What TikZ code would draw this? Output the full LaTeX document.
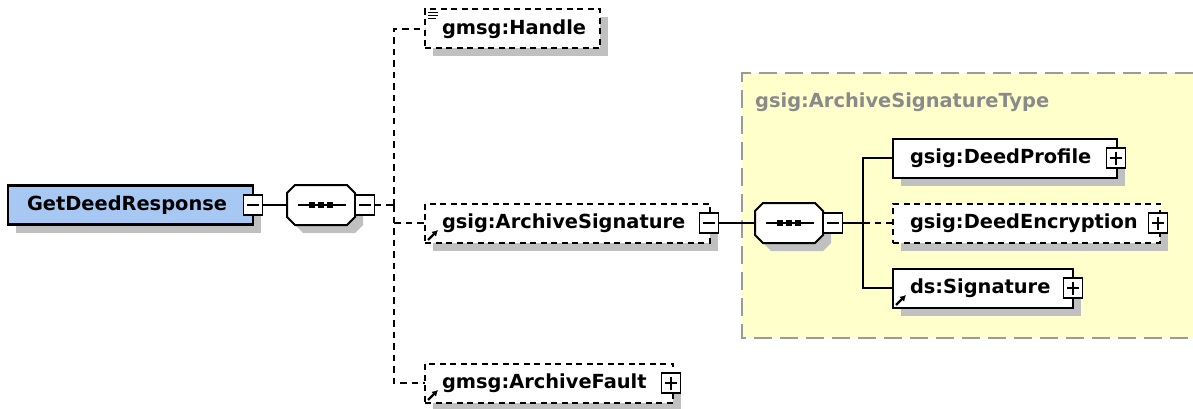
\documentclass[tikz,border=0pt]{standalone}
\usepackage{fontspec}
\setmainfont{DejaVu Sans}
\usetikzlibrary{calc,arrows.meta,shadows}

\definecolor{rootblue}{HTML}{A6C8F2}
\definecolor{typeyellow}{HTML}{FFFFCC}
\definecolor{shadowgray}{HTML}{C0C0C0}
\definecolor{typegray}{HTML}{8A8A8A}
\definecolor{frameline}{HTML}{9A9A9A}

\newcommand\elemfont{\fontsize{19.4}{22}\selectfont\bfseries}

% octagon of a sequence compositor (68pt x 40pt) on node #1, with its shadow
\newcommand\seqoct[1]{%
  \fill[shadowgray] ([shift={(16pt,-8pt)}]#1.north west) -- ++(52pt,0pt) -- ++(8pt,-8pt)
    -- ++(0pt,-24pt) -- ++(-8pt,-8pt) -- ++(-52pt,0pt) -- ++(-8pt,8pt) -- ++(0pt,24pt) -- cycle;
  \draw[line width=2pt,fill=white] ([xshift=8pt]#1.north west) -- ++(52pt,0pt) -- ++(8pt,-8pt)
    -- ++(0pt,-24pt) -- ++(-8pt,-8pt) -- ++(-52pt,0pt) -- ++(-8pt,8pt) -- ++(0pt,24pt) -- cycle;
  \draw[line width=2pt] ([xshift=11pt]#1.west) -- ([xshift=-9pt]#1.east);
  \foreach \dx in {-9,0,9}
    \fill ([xshift=\dx pt]#1.center) +(-2.8pt,-2.8pt) rectangle +(2.8pt,2.8pt);
}

\tikzset{
  elembase/.style={line width=2pt, fill=white, anchor=west, minimum height=39pt,
    inner xsep=17pt, inner ysep=0pt, outer sep=0pt, font=\elemfont,
    drop shadow={shadow xshift=8pt, shadow yshift=-8pt, fill=shadowgray, opacity=1}},
  reqbox/.style={elembase, draw},
  optbox/.style={elembase, draw, dash pattern=on 6pt off 4.5pt},
  rootbox/.style={elembase, draw, line width=2.2pt, fill=rootblue},
  compositor/.style={minimum width=68pt, minimum height=40pt, inner sep=0pt, outer sep=0pt},
  pmbox/.style={draw, fill=white, line width=1.8pt, minimum width=19pt, minimum height=20pt,
    inner sep=0pt, outer sep=0pt},
  minusbox/.style={pmbox, path picture={
    \draw[line width=1.6pt] ([xshift=3.5pt]path picture bounding box.west)
      -- ([xshift=-3.5pt]path picture bounding box.east);}},
  plusbox/.style={pmbox, path picture={
    \draw[line width=1.6pt] ([xshift=3.5pt]path picture bounding box.west)
      -- ([xshift=-3.5pt]path picture bounding box.east);
    \draw[line width=1.6pt] ([yshift=-3.5pt]path picture bounding box.north)
      -- ([yshift=3.5pt]path picture bounding box.south);}},
  conn/.style={line width=2pt},
  dconn/.style={line width=2pt, dash pattern=on 6.5pt off 5pt},
  refarrow/.style={line width=2.2pt, -{Latex[length=6pt,width=7pt]}},
  typeframe/.style={draw=frameline, line width=1.8pt, dash pattern=on 18pt off 8pt},
}

\begin{document}
\begin{tikzpicture}[x=1pt,y=-1pt]
\useasboundingbox (0,0) rectangle (1193,409);

% complex type area
\fill[typeyellow] (742,73) rectangle (1193,338);
\draw[typeframe] (1193,73) -- (742,73) -- (742,338) -- (1193,338);
\node[anchor=west, inner sep=0pt, font=\elemfont, text=typegray] (typename) at (755,102)
  {gsig:ArchiveSignatureType};

% root element and its sequence
\node[rootbox] (root) at (8,205) {\hbox to 211pt{\hspace{2pt}GetDeedResponse\hss}};
\node[minusbox] (rootm) at (root.east) {};
\node[compositor] (s1) at (321,205) {};
\seqoct{s1}
\node[minusbox] (s1m) at ([xshift=10pt]s1.east) {};
\coordinate (sp1) at (394,205);

% children of the root sequence
\node[optbox] (handle) at (425,29) {\hbox to 141pt{gmsg:Handle\hss}};
\node[optbox] (asig) at (425,223) {\hbox to 251pt{gsig:ArchiveSignature\hss}};
\node[minusbox] (asigm) at ([xshift=-1pt]asig.east) {};
\node[optbox] (fault) at (425,383) {\hbox to 214pt{gmsg:ArchiveFault\hss}};
\node[plusbox] (faultp) at ([xshift=-2pt]fault.east) {};

% simple content mark and reference arrows
\foreach \dy/\len in {3/10,6/10,9/8}
  \draw[line width=1.6pt] ([shift={(3pt,-\dy pt)}]handle.north west) -- ++(\len pt,0pt);
\draw[refarrow] ([shift={(3pt,2.5pt)}]asig.south west) -- ++(10pt,10pt);
\draw[refarrow] ([shift={(3pt,2.5pt)}]fault.south west) -- ++(10pt,10pt);

% sequence inside the complex type
\node[compositor] (s2) at (789,223) {};
\seqoct{s2}
\node[minusbox] (s2m) at ([xshift=10pt]s2.east) {};
\coordinate (sp2) at (863,223);

\node[reqbox] (profile) at (893,158) {\hbox to 190pt{gsig:DeedProfile\hss}};
\node[plusbox] (profilep) at ([xshift=-1pt]profile.east) {};
\node[optbox] (enc) at (893,223) {\hbox to 233pt{gsig:DeedEncryption\hss}};
\node[plusbox] (encp) at ([xshift=-2pt]enc.east) {};
\node[reqbox] (sig) at (893,288) {\hbox to 146pt{ds:Signature\hss}};
\node[plusbox] (sigp) at (sig.east) {};
\draw[refarrow] ([shift={(3pt,2.5pt)}]sig.south west) -- ++(10pt,10pt);

% connectors
\draw[conn] (rootm.east) -- (s1.west);
\draw[dconn] (s1m.east) -- (sp1);
\draw[dconn] (sp1) |- (handle.west);
\draw[dconn] (sp1) |- (fault.west);
\draw[dconn] (sp1 |- asig.west) -- (asig.west);

\draw[conn] (asigm.east) -- (s2.west);
\draw[conn] (s2m.east) -- (sp2);
\draw[conn] (sp2) |- (profile.west);
\draw[conn] (sp2) |- (sig.west);
\draw[dconn] (sp2) -- (enc.west);
\end{tikzpicture}
\end{document}
